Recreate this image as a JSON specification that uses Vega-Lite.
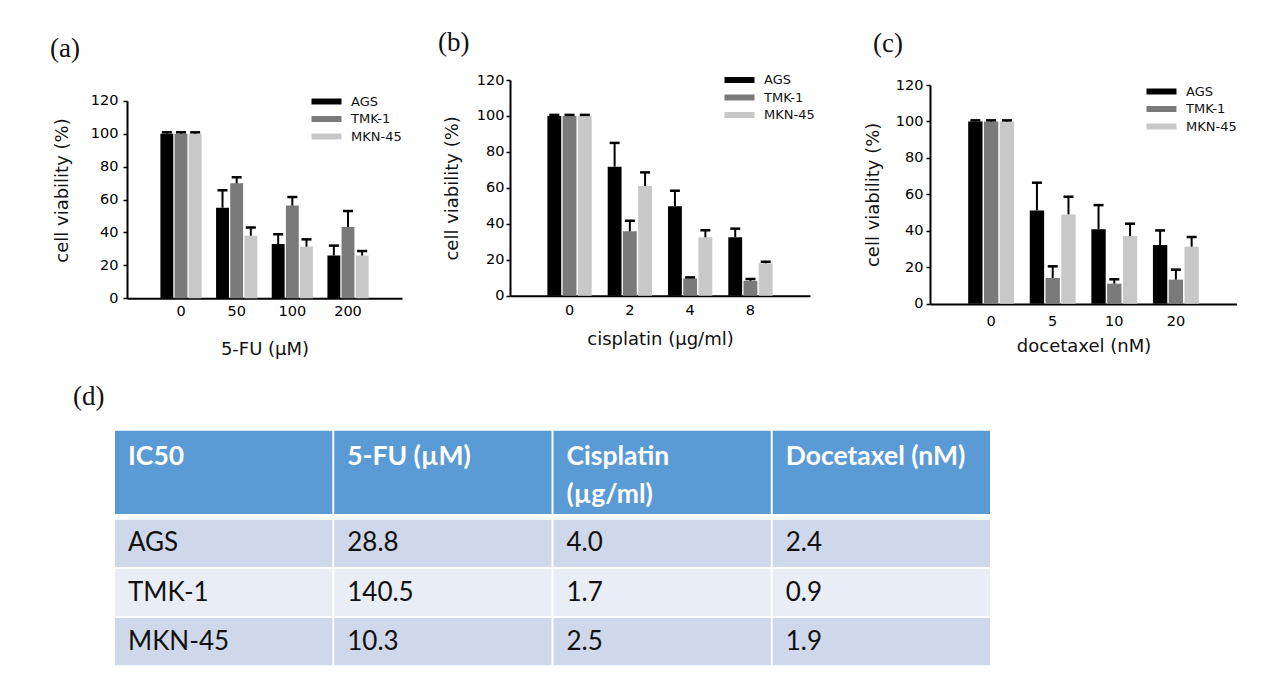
{
  "$schema": "https://vega.github.io/schema/vega-lite/v6.json",
  "padding": {"left": 50, "top": 29, "right": 0, "bottom": 0},
  "background": "white",
  "config": {
    "view": {"stroke": null},
    "font": "DejaVu Sans",
    "axis": {
      "labelFont": "DejaVu Sans", "labelFontSize": 14.5, "labelColor": "#000000",
      "titleFont": "DejaVu Sans", "titleFontSize": 18, "titleFontWeight": "normal", "titleColor": "#111111",
      "domainColor": "#000000", "domainWidth": 2, "tickColor": "#000000", "tickWidth": 1.5, "tickSize": 4, "grid": false
    },
    "axisX": {"ticks": false, "labelAngle": 0},
    "legend": {
      "padding": 0, "labelFont": "DejaVu Sans", "labelFontSize": 13, "labelColor": "#111111",
      "symbolType": "M-1,-0.6H5V0.6H-1Z", "symbolSize": 100, "symbolStrokeWidth": 0,
      "labelOffset": 28, "rowPadding": 3.5, "direction": "vertical", "orient": "none"
    },
    "title": {"font": "Liberation Serif", "fontSize": 27, "fontWeight": "normal", "color": "#111111", "anchor": "start", "frame": "group", "offset": 0, "baseline": "middle"}
  },
  "datasets": {
    "a": [
      {"dose": "0", "line": "AGS", "v": 100, "hi": 100.8},
      {"dose": "0", "line": "TMK-1", "v": 100, "hi": 100.8},
      {"dose": "0", "line": "MKN-45", "v": 100, "hi": 100.8},
      {"dose": "50", "line": "AGS", "v": 55, "hi": 65.6},
      {"dose": "50", "line": "TMK-1", "v": 69.8, "hi": 73.5},
      {"dose": "50", "line": "MKN-45", "v": 38, "hi": 43},
      {"dose": "100", "line": "AGS", "v": 33, "hi": 38.9},
      {"dose": "100", "line": "TMK-1", "v": 56.3, "hi": 61.5},
      {"dose": "100", "line": "MKN-45", "v": 31.4, "hi": 35.8},
      {"dose": "200", "line": "AGS", "v": 26, "hi": 32},
      {"dose": "200", "line": "TMK-1", "v": 43.3, "hi": 53},
      {"dose": "200", "line": "MKN-45", "v": 26, "hi": 28.7}
    ],
    "b": [
      {"dose": "0", "line": "AGS", "v": 100, "hi": 100.6},
      {"dose": "0", "line": "TMK-1", "v": 100, "hi": 100.6},
      {"dose": "0", "line": "MKN-45", "v": 100, "hi": 100.6},
      {"dose": "2", "line": "AGS", "v": 71.8, "hi": 85},
      {"dose": "2", "line": "TMK-1", "v": 35.8, "hi": 41.7},
      {"dose": "2", "line": "MKN-45", "v": 61, "hi": 68.6},
      {"dose": "4", "line": "AGS", "v": 49.7, "hi": 58.4},
      {"dose": "4", "line": "TMK-1", "v": 9.6, "hi": 10.2},
      {"dose": "4", "line": "MKN-45", "v": 32.5, "hi": 36.4},
      {"dose": "8", "line": "AGS", "v": 32.5, "hi": 37.3},
      {"dose": "8", "line": "TMK-1", "v": 8.3, "hi": 9.3},
      {"dose": "8", "line": "MKN-45", "v": 18, "hi": 18.9}
    ],
    "c": [
      {"dose": "0", "line": "AGS", "v": 100, "hi": 100.6},
      {"dose": "0", "line": "TMK-1", "v": 100, "hi": 100.6},
      {"dose": "0", "line": "MKN-45", "v": 100, "hi": 100.6},
      {"dose": "5", "line": "AGS", "v": 51.2, "hi": 66.4},
      {"dose": "5", "line": "TMK-1", "v": 14.1, "hi": 20.5},
      {"dose": "5", "line": "MKN-45", "v": 49, "hi": 58.7},
      {"dose": "10", "line": "AGS", "v": 40.8, "hi": 54.1},
      {"dose": "10", "line": "TMK-1", "v": 11, "hi": 13.4},
      {"dose": "10", "line": "MKN-45", "v": 37.1, "hi": 43.9},
      {"dose": "20", "line": "AGS", "v": 32.2, "hi": 40.2},
      {"dose": "20", "line": "TMK-1", "v": 13.2, "hi": 18.7},
      {"dose": "20", "line": "MKN-45", "v": 31.3, "hi": 36.6}
    ],
    "thead": [
      {"col": "c1", "part": "h", "label": "IC50"},
      {"col": "c2", "part": "h", "label": "5-FU (µM)"},
      {"col": "c3", "part": "h", "label": "Cisplatin\n(µg/ml)"},
      {"col": "c4", "part": "h", "label": "Docetaxel (nM)"}
    ],
    "tbody": [
      {"row": "AGS", "col": "c1", "label": "AGS"},
      {"row": "AGS", "col": "c2", "label": "28.8"},
      {"row": "AGS", "col": "c3", "label": "4.0"},
      {"row": "AGS", "col": "c4", "label": "2.4"},
      {"row": "TMK-1", "col": "c1", "label": "TMK-1"},
      {"row": "TMK-1", "col": "c2", "label": "140.5"},
      {"row": "TMK-1", "col": "c3", "label": "1.7"},
      {"row": "TMK-1", "col": "c4", "label": "0.9"},
      {"row": "MKN-45", "col": "c1", "label": "MKN-45"},
      {"row": "MKN-45", "col": "c2", "label": "10.3"},
      {"row": "MKN-45", "col": "c3", "label": "2.5"},
      {"row": "MKN-45", "col": "c4", "label": "1.9"}
    ]
  },
  "columns": 3,
  "bounds": "flush",
  "spacing": {"row": 126.7, "column": 108},
  "resolve": {"scale": {"x": "independent", "y": "independent", "color": "independent", "xOffset": "independent"}, "legend": {"color": "independent"}},
  "concat": [
    {
      "width": 287, "height": 224,
      "title": {"text": "(a)", "dx": -65, "dy": -13},
      "data": {"name": "a"},
      "encoding": {
        "x": {"field": "dose", "type": "nominal", "sort": ["0", "50", "100", "200"], "scale": {"range": [12, 287], "paddingInner": 0.26, "paddingOuter": 0.6}, "axis": {"title": "5-FU (μM)", "offset": -5.7, "labelPadding": 6, "titlePadding": 22.8}},
        "xOffset": {"field": "line", "type": "nominal", "sort": ["AGS", "TMK-1", "MKN-45"], "scale": {"paddingInner": 0.09, "paddingOuter": 0}},
        "y": {"field": "v", "type": "quantitative", "scale": {"domain": [0, 120], "nice": false, "range": [218.3, 20.7]}, "axis": {"title": "cell viability (%)", "values": [0, 20, 40, 60, 80, 100, 120], "offset": -12, "labelPadding": 5, "titlePadding": 19, "titleY": 110}}
      },
      "layer": [
        {"mark": {"type": "bar"}, "encoding": {"color": {"field": "line", "type": "nominal", "scale": {"domain": ["AGS", "TMK-1", "MKN-45"], "range": ["#000000", "#7a7a7a", "#c8c8c8"]}, "legend": {"title": null, "orient": "none", "legendX": 195, "legendY": 15}}}},
        {"mark": {"type": "rule", "color": "#000000", "strokeWidth": 2}, "encoding": {"y2": {"field": "hi"}}},
        {"mark": {"type": "tick", "color": "#000000", "thickness": 2.5, "size": 10, "opacity": 1, "orient": "horizontal"}, "encoding": {"y": {"field": "hi", "type": "quantitative", "title": "cell viability (%)"}}}
      ]
    },
    {
      "width": 312, "height": 224,
      "title": {"text": "(b)", "dx": -72, "dy": -11},
      "data": {"name": "b"},
      "encoding": {
        "x": {"field": "dose", "type": "nominal", "sort": ["0", "2", "4", "8"], "scale": {"range": [0, 300], "paddingInner": 0.265, "paddingOuter": 0.62}, "axis": {"title": "cisplatin (μg/ml)", "offset": -8.3, "labelPadding": 8, "titlePadding": 12.8}},
        "xOffset": {"field": "line", "type": "nominal", "sort": ["AGS", "TMK-1", "MKN-45"], "scale": {"paddingInner": 0.09, "paddingOuter": 0}},
        "y": {"field": "v", "type": "quantitative", "scale": {"domain": [0, 120], "nice": false, "range": [215.7, 0]}, "axis": {"title": "cell viability (%)", "values": [0, 20, 40, 60, 80, 100, 120], "labelPadding": 2, "titlePadding": 15}}
      },
      "layer": [
        {"mark": {"type": "bar"}, "encoding": {"color": {"field": "line", "type": "nominal", "scale": {"domain": ["AGS", "TMK-1", "MKN-45"], "range": ["#000000", "#7a7a7a", "#c8c8c8"]}, "legend": {"title": null, "orient": "none", "legendX": 213, "legendY": -6.5}}}},
        {"mark": {"type": "rule", "color": "#000000", "strokeWidth": 2}, "encoding": {"y2": {"field": "hi"}}},
        {"mark": {"type": "tick", "color": "#000000", "thickness": 2.5, "size": 10, "opacity": 1, "orient": "horizontal"}, "encoding": {"y": {"field": "hi", "type": "quantitative", "title": "cell viability (%)"}}}
      ]
    },
    {
      "width": 307, "height": 224,
      "title": {"text": "(c)", "dx": -57, "dy": -15},
      "data": {"name": "c"},
      "encoding": {
        "x": {"field": "dose", "type": "nominal", "sort": ["0", "5", "10", "20"], "scale": {"range": [0, 307], "paddingInner": 0.255, "paddingOuter": 0.62}, "axis": {"title": "docetaxel (nM)", "offset": 0, "labelPadding": 10, "titlePadding": 9.5}},
        "xOffset": {"field": "line", "type": "nominal", "sort": ["AGS", "TMK-1", "MKN-45"], "scale": {"paddingInner": 0.09, "paddingOuter": 0}},
        "y": {"field": "v", "type": "quantitative", "scale": {"domain": [0, 120], "nice": false, "range": [223.7, 5]}, "axis": {"title": "cell viability (%)", "values": [0, 20, 40, 60, 80, 100, 120], "labelPadding": 3, "titlePadding": 13}}
      },
      "layer": [
        {"mark": {"type": "bar"}, "encoding": {"color": {"field": "line", "type": "nominal", "scale": {"domain": ["AGS", "TMK-1", "MKN-45"], "range": ["#000000", "#7a7a7a", "#c8c8c8"]}, "legend": {"title": null, "orient": "none", "legendX": 215, "legendY": 5}}}},
        {"mark": {"type": "rule", "color": "#000000", "strokeWidth": 2}, "encoding": {"y2": {"field": "hi"}}},
        {"mark": {"type": "tick", "color": "#000000", "thickness": 2.5, "size": 10, "opacity": 1, "orient": "horizontal"}, "encoding": {"y": {"field": "hi", "type": "quantitative", "title": "cell viability (%)"}}}
      ]
    },
    {
      "width": 287, "height": 234.6,
      "title": {"text": "(d)", "dx": -42, "dy": -15.4},
      "resolve": {"scale": {"y": "independent"}},
      "layer": [
        {
          "data": {"name": "thead"},
          "encoding": {
            "x": {"field": "col", "type": "nominal", "sort": ["c1", "c2", "c3", "c4"], "scale": {"range": [0, 875], "paddingInner": 0.009, "paddingOuter": 0}, "axis": null},
            "y": {"field": "part", "type": "nominal", "scale": {"range": [0, 83.3], "paddingInner": 0, "paddingOuter": 0}, "axis": null}
          },
          "layer": [
            {"mark": {"type": "rect", "fill": "#5b9bd5"}},
            {
              "mark": {"type": "text", "align": "left", "baseline": "alphabetic", "dx": 13, "dy": 34.6, "font": "Lato", "fontWeight": "bold", "fontSize": 26.5, "color": "#ffffff", "lineBreak": "\n", "lineHeight": 38},
              "encoding": {
                "x": {"field": "col", "type": "nominal", "sort": ["c1", "c2", "c3", "c4"], "bandPosition": 0, "axis": null},
                "y": {"field": "part", "type": "nominal", "bandPosition": 0, "axis": null},
                "text": {"field": "label"}
              }
            }
          ]
        },
        {
          "data": {"name": "tbody"},
          "encoding": {
            "x": {"field": "col", "type": "nominal", "sort": ["c1", "c2", "c3", "c4"], "axis": null},
            "y": {"field": "row", "type": "nominal", "sort": ["AGS", "TMK-1", "MKN-45"], "scale": {"range": [89, 234.6], "paddingInner": 0.04, "paddingOuter": 0}, "axis": null}
          },
          "layer": [
            {"mark": {"type": "rect"}, "encoding": {"fill": {"condition": {"test": "datum.row === 'TMK-1'", "value": "#e9edf5"}, "value": "#cfd8ea"}}},
            {
              "mark": {"type": "text", "align": "left", "baseline": "middle", "dx": 13, "font": "Lato", "fontSize": 26, "color": "#111111"},
              "encoding": {
                "x": {"field": "col", "type": "nominal", "sort": ["c1", "c2", "c3", "c4"], "bandPosition": 0, "axis": null},
                "text": {"field": "label"}
              }
            }
          ]
        }
      ]
    }
  ]
}
